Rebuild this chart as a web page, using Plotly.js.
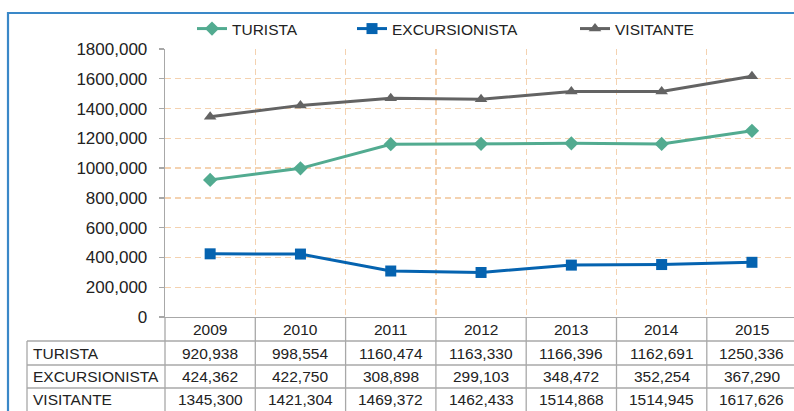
<!DOCTYPE html>
<html>
<head>
<meta charset="utf-8">
<script src="https://cdn.plot.ly/plotly-3.0.1.min.js"></script>
<style>html,body{margin:0;padding:0;background:#fff;}#chart{width:794px;height:411px;}</style>
</head>
<body>
<div id="chart"></div>
<script>
const years = ['2009', '2010', '2011', '2012', '2013', '2014', '2015'];
const turista = [920938, 998554, 1160474, 1163330, 1166396, 1162691, 1250336];
const excursionista = [424362, 422750, 308898, 299103, 348472, 352254, 367290];
const visitante = [1345300, 1421304, 1469372, 1462433, 1514868, 1514945, 1617626];
const seriesNames = ['TURISTA', 'EXCURSIONISTA', 'VISITANTE'];
const yTickVals = [0, 200000, 400000, 600000, 800000, 1000000, 1200000, 1400000, 1600000, 1800000];
const yTickText = ['0', '200,000', '400,000', '600,000', '800,000', '1000,000', '1200,000', '1400,000', '1600,000', '1800,000'];

// geometry (pixels)
const W = 794, H = 411;
const PL = 165, PR = 794, PT = 49, PB = 317;
const colW = 90.3;
const px = v => (v - PL) / (PR - PL);
const py = v => (PB - v) / (PB - PT);

function fmt(v) {
  const th = Math.floor(v / 1000);
  const r = String(v % 1000).padStart(3, '0');
  return th + ',' + r;
}

const colors = ['#52ab90', '#0563b0', '#636363'];
const symbols = ['diamond', 'square', 'triangle-up'];
const sizes = [11, 11, 11];
const allSeries = [turista, excursionista, visitante];
const legendIds = ['legend', 'legend2', 'legend3'];

const traces = allSeries.map((s, i) => ({
  type: 'scatter', mode: 'lines+markers',
  x: years, y: s, name: seriesNames[i],
  line: {color: colors[i], width: 3},
  marker: {symbol: symbols[i], size: sizes[i], color: colors[i]},
  legend: legendIds[i],
  cliponaxis: false
}));

const font = {family: 'Liberation Sans, Arial, sans-serif', color: '#222'};
const tableFont = Object.assign({}, font, {size: 15.5});

const xRangeMax = (PR - PL) / colW - 0.5;

const shapes = [];
const lineStyle = {color: '#a8a8a8', width: 1.3};
const gridColor = '#f4d2b0';
// frame
shapes.push({type: 'path', xref: 'paper', yref: 'paper',
  path: `M ${px(8)} ${py(420)} L ${px(8)} ${py(13)} L ${px(800)} ${py(13)}`,
  line: {color: '#3a88c8', width: 2.2}});
// table horizontal lines
const rowLines = [341, 365, 388];
rowLines.forEach(yy => shapes.push({type: 'line', xref: 'paper', yref: 'paper',
  x0: px(27), x1: px(800), y0: py(yy), y1: py(yy), line: lineStyle}));
// label column left line and axis continuation
shapes.push({type: 'line', xref: 'paper', yref: 'paper', x0: px(27), x1: px(27), y0: py(341), y1: py(420), line: lineStyle});
shapes.push({type: 'line', xref: 'paper', yref: 'paper', x0: 0, x1: 0, y0: py(317), y1: py(420), line: lineStyle});
// column boundaries
for (let i = 0; i < years.length - 1; i++) {
  shapes.push({type: 'line', xref: 'x', yref: 'paper', x0: i + 0.5, x1: i + 0.5, y0: py(317), y1: py(420), line: lineStyle});
}

const annotations = [];
const rowCenters = [353, 376.5, 399.5];
years.forEach((yr, i) => annotations.push({xref: 'x', yref: 'paper', x: i, y: py(329),
  text: yr, showarrow: false, xanchor: 'center', yanchor: 'middle', font: tableFont}));
seriesNames.forEach((n, r) => {
  annotations.push({xref: 'paper', yref: 'paper', x: px(31), y: py(rowCenters[r]),
    text: n, showarrow: false, xanchor: 'left', yanchor: 'middle', font: tableFont});
  allSeries[r].forEach((v, i) => annotations.push({xref: 'x', yref: 'paper', x: i, y: py(rowCenters[r]),
    text: fmt(v), showarrow: false, xanchor: 'center', yanchor: 'middle', font: tableFont}));
});

const legendBase = {orientation: 'h', yanchor: 'middle', xanchor: 'left', y: py(29),
  bgcolor: 'rgba(0,0,0,0)', borderwidth: 0, font: Object.assign({}, font, {size: 15.5}), itemclick: false};
const legendX = [192, 352, 575];

const layout = {
  width: W, height: H,
  margin: {l: PL, r: W - PR, t: PT, b: H - PB, pad: 0},
  paper_bgcolor: '#fff', plot_bgcolor: '#fff',
  font: font,
  showlegend: true,
  legend: Object.assign({}, legendBase, {x: px(legendX[0])}),
  legend2: Object.assign({}, legendBase, {x: px(legendX[1])}),
  legend3: Object.assign({}, legendBase, {x: px(legendX[2])}),
  xaxis: {
    type: 'category', range: [-0.5, xRangeMax],
    tickson: 'boundaries', showgrid: true, gridcolor: gridColor, gridwidth: 1.3, griddash: '6px,4px',
    showticklabels: false, ticks: '', showline: true, linecolor: '#a8a8a8', linewidth: 1.3,
    zeroline: false, fixedrange: true
  },
  yaxis: {
    range: [0, 1800000], tickmode: 'array', tickvals: yTickVals, ticktext: yTickText,
    showgrid: true, gridcolor: gridColor, gridwidth: 1.3, griddash: '6px,4px',
    zeroline: false, showline: true, linecolor: '#a8a8a8', linewidth: 1.3,
    ticks: 'outside', ticklen: 5, tickcolor: '#a8a8a8', tickwidth: 1.3,
    ticklabelstandoff: 8,
    tickfont: Object.assign({}, font, {size: 17}), fixedrange: true
  },
  shapes: shapes,
  annotations: annotations
};

Plotly.newPlot('chart', traces, layout, {displayModeBar: false, staticPlot: true});
</script>
</body>
</html>
